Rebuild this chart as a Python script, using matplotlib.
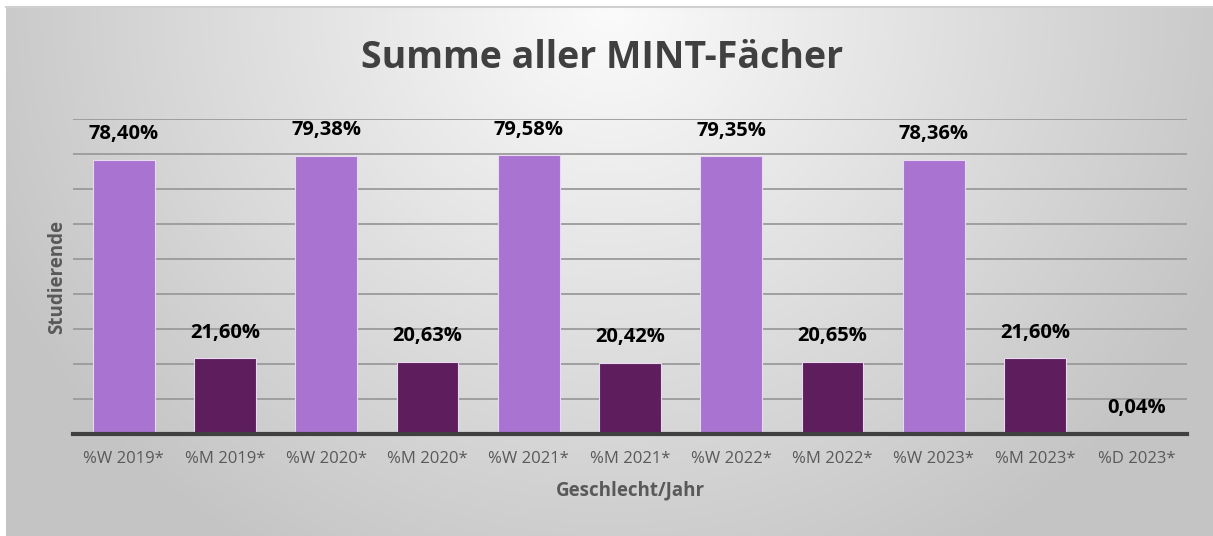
import numpy as np
import matplotlib
matplotlib.use("Agg")
import matplotlib.pyplot as plt

categories = ['%W 2019*', '%M 2019*', '%W 2020*', '%M 2020*', '%W 2021*',
              '%M 2021*', '%W 2022*', '%M 2022*', '%W 2023*', '%M 2023*',
              '%D 2023*']
values = [78.40, 21.60, 79.38, 20.63, 79.58, 20.42, 79.35, 20.65, 78.36, 21.60, 0.04]
labels = ['78,40%', '21,60%', '79,38%', '20,63%', '79,58%', '20,42%',
          '79,35%', '20,65%', '78,36%', '21,60%', '0,04%']

W, H = 1213, 536
light = '#a974d1'
dark = '#5e1e5e'
colors = [light if c.startswith('%W') else dark for c in categories]

plt.rcParams['font.family'] = ['Open Sans', 'DejaVu Sans']

fig = plt.figure(figsize=(W / 100, H / 100), dpi=100)
fig.patch.set_facecolor('white')

# gradient background box
bx0, by0 = 6, 7
bg = fig.add_axes([bx0 / W, 0, 1 - bx0 / W, 1 - by0 / H])
yy, xx = np.mgrid[0:1:200j, 0:1:400j]
d = np.sqrt(((xx - 0.5) / 0.6) ** 2 + ((yy - 0.0) / 1.3) ** 2)
shade = 0.985 - 0.23 * np.clip(d, 0, 1.2)
shade = np.clip(shade, 0.77, 0.99)
bg.imshow(np.dstack([shade] * 3), aspect='auto', extent=[0, 1, 1, 0])
bg.set_axis_off()
fig.add_artist(plt.Line2D([bx0 / W, 1], [1 - by0 / H] * 2, color='#d0d0d0', lw=1.5))

ax = fig.add_axes([73 / W, (H - 434) / H, (1187 - 73) / W, (434 - 119) / H])
ax.set_facecolor('none')
x = np.arange(len(categories))
bars = ax.bar(x, values, width=0.61, color=colors, edgecolor='#e8d8f0',
              linewidth=0.8, zorder=3)
ax.set_xlim(-0.5, len(categories) - 0.5)
ax.set_ylim(0, 90)
ax.set_yticks(np.arange(0, 91, 10))
ax.yaxis.grid(True, color='#9a9a9a', lw=1.3, zorder=0)
ax.tick_params(axis='y', length=0, labelleft=False)
ax.tick_params(axis='x', length=0, pad=12, labelsize=12, labelcolor='#595959')
ax.set_xticks(x)
ax.set_xticklabels(categories)
for s in ['top', 'right', 'left']:
    ax.spines[s].set_visible(False)
ax.spines['bottom'].set_color('#404040')
ax.spines['bottom'].set_linewidth(3)
ax.spines['bottom'].set_zorder(4)

for xi, v, lab in zip(x, values, labels):
    ax.annotate(lab, (xi, v), xytext=(0, 18.5), textcoords='offset points',
                ha='center', va='center', fontsize=14.5, fontweight='bold',
                color='black', zorder=5)

ax.set_xlabel('Geschlecht/Jahr', fontsize=13.5, fontweight='bold',
              color='#595959', labelpad=10)
ax.set_ylabel('Studierende', fontsize=13.5, fontweight='bold',
              color='#595959', labelpad=4)
fig.text(0.4965, 1 - 58 / H, 'Summe aller MINT-Fächer', ha='center', va='center',
         fontsize=27, fontweight='bold', color='#404040')

fig.savefig('out.png', dpi=100)
